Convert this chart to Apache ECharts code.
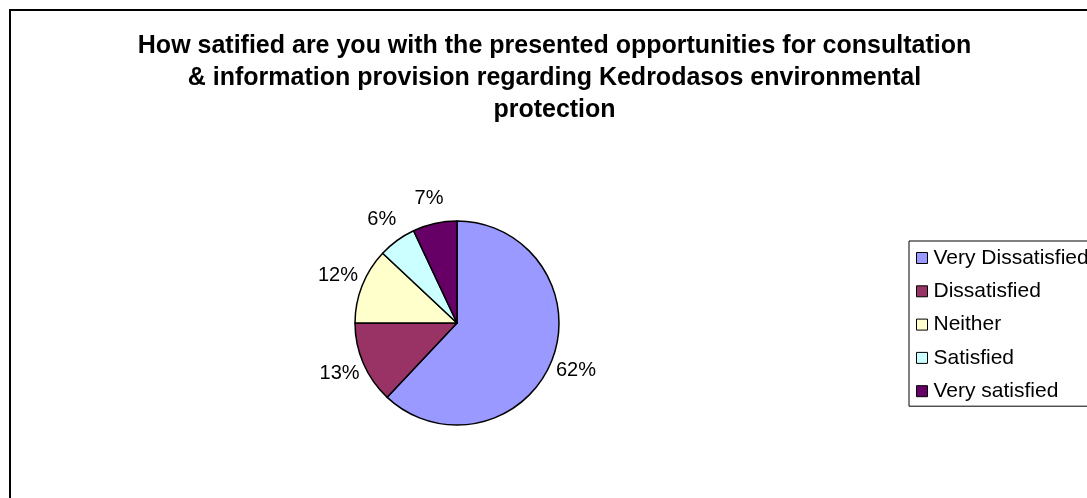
<!DOCTYPE html>
<html>
<head>
<meta charset="utf-8">
<script src="https://cdn.jsdelivr.net/npm/echarts@6/dist/echarts.min.js"></script>
<style>
  html, body { margin: 0; padding: 0; background: #ffffff; }
  #chart { width: 1087px; height: 498px; }
</style>
</head>
<body>
<div id="chart"></div>
<script>
// Survey answers, in the order the slices run clockwise from 12 o'clock
const categories = ['Very Dissatisfied', 'Dissatisfied', 'Neither', 'Satisfied', 'Very satisfied'];
const shares = [62, 13, 12, 6, 7];
const sliceColors = ['#9999FF', '#993366', '#FFFFCC', '#CCFFFF', '#660066'];
const titleLines = [
  'How satified are you with the presented opportunities for consultation',
  '& information provision regarding Kedrodasos environmental',
  'protection'
];

const FONT = "'Liberation Sans', Arial, sans-serif";
const CENTER = [457, 323];

const sliceData = categories.map((name, i) => ({
  name: name,
  value: shares[i],
  itemStyle: { color: sliceColors[i] }
}));

const chart = echarts.init(document.getElementById('chart'), null, { renderer: 'canvas' });

chart.setOption({
  backgroundColor: '#ffffff',
  animation: false,
  legend: {
    orient: 'vertical',
    left: 909,
    top: 241,
    padding: [6, 14, 4, 7],
    borderColor: '#000000',
    borderWidth: 1,
    backgroundColor: '#ffffff',
    icon: 'rect',
    itemWidth: 11,
    itemHeight: 11,
    itemGap: 11.3,
    itemStyle: { borderColor: '#000000', borderWidth: 1 },
    selectedMode: false,
    data: categories,
    textStyle: {
      fontFamily: FONT,
      fontSize: 21,
      lineHeight: 22,
      color: '#000000',
      padding: [0, 0, 0, 1]
    }
  },
  graphic: [
    {
      // outer frame of the chart area
      type: 'rect',
      silent: true,
      z: -1,
      shape: { x: 10, y: 10, width: 1200, height: 600 },
      style: { fill: 'none', stroke: '#000000', lineWidth: 2 }
    },
    {
      // three-line bold heading
      type: 'text',
      silent: true,
      x: 554.5,
      y: 30,
      style: {
        text: titleLines.join('\n'),
        align: 'center',
        verticalAlign: 'top',
        fontFamily: FONT,
        fontSize: 25,
        fontWeight: 'bold',
        lineHeight: 32,
        fill: '#000000'
      }
    }
  ],
  series: [
    {
      // the drawn pie
      type: 'pie',
      center: CENTER,
      radius: 102,
      startAngle: 90,
      clockwise: true,
      silent: true,
      avoidLabelOverlap: false,
      data: sliceData,
      itemStyle: { borderColor: '#000000', borderWidth: 1.5 },
      label: { show: false },
      labelLine: { show: false }
    },
    {
      // transparent ring that carries the percentage labels around the pie
      type: 'pie',
      center: CENTER,
      radius: 250,
      startAngle: 90,
      clockwise: true,
      silent: true,
      avoidLabelOverlap: false,
      data: categories.map((name, i) => ({ name: name, value: shares[i] })),
      itemStyle: { color: 'rgba(0,0,0,0)', borderWidth: 0 },
      label: {
        show: true,
        position: 'inside',
        fontFamily: FONT,
        fontSize: 20,
        color: '#000000',
        formatter: p => Math.round(p.percent) + '%'
      },
      labelLine: { show: false }
    }
  ]
});
</script>
</body>
</html>
